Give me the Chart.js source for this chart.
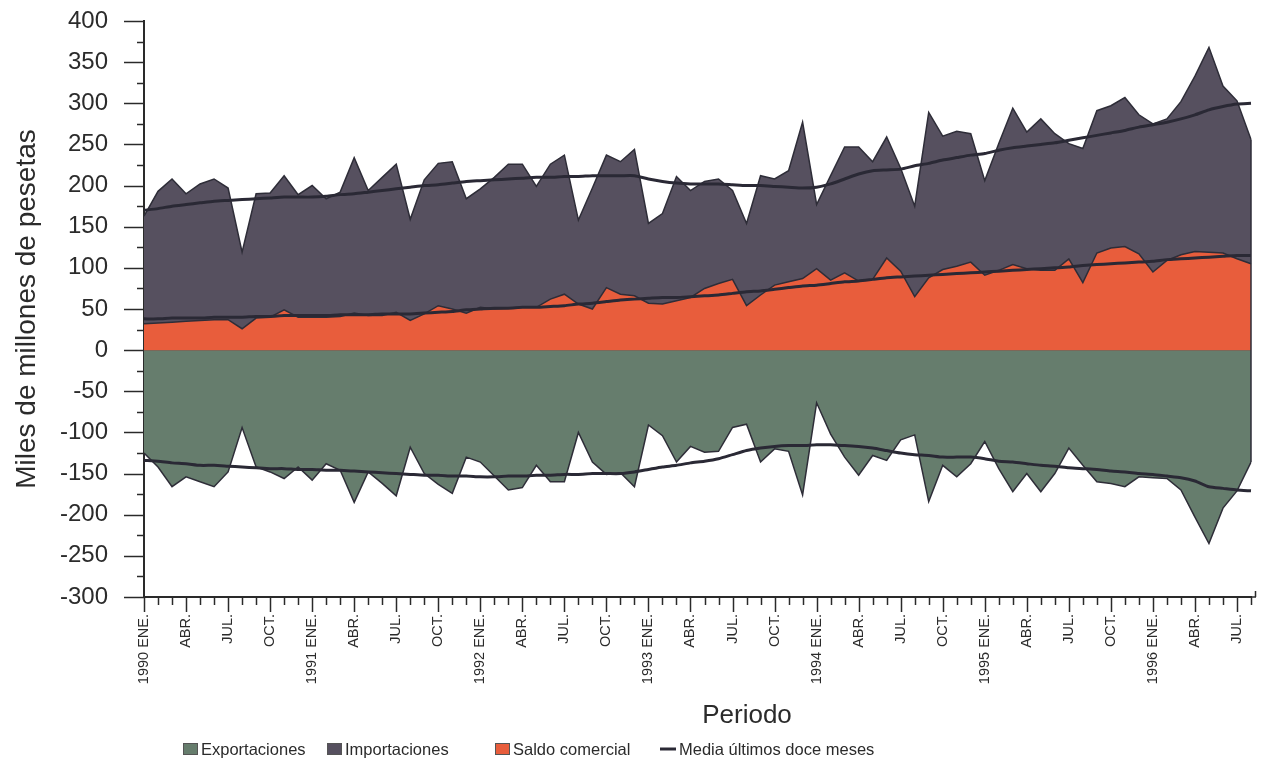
<!DOCTYPE html>
<html>
<head>
<meta charset="utf-8">
<script src="https://cdn.jsdelivr.net/npm/chart.js@4.4.1/dist/chart.umd.min.js"></script>
<style>
  html, body { margin: 0; padding: 0; background: #ffffff; }
  #wrap { position: relative; width: 1271px; height: 764px; }
  canvas { display: block; }
</style>
</head>
<body>
<div id="wrap"><canvas id="c" width="1271" height="764"></canvas></div>
<script>
// ---- Data (miles de millones de pesetas), enero 1990 - agosto 1996 ----
const monthNames = ['ENE.', 'FEB.', 'MAR.', 'ABR.', 'MAY.', 'JUN.', 'JUL.', 'AGO.', 'SEP.', 'OCT.', 'NOV.', 'DIC.'];
const years = [1990, 1991, 1992, 1993, 1994, 1995, 1996];
const monthCount = 80;

const importaciones = [
  163, 193, 208, 190, 202, 208, 197, 119, 190, 191,
  212, 189, 200, 184, 192, 234, 194, 210, 226, 159,
  207, 227, 229, 184, 196, 210, 226, 226, 199, 226,
  237, 158, 197, 237, 229, 244, 154, 166, 211, 194,
  205, 208, 194, 154, 212, 208, 218, 277, 177, 212,
  247, 247, 229, 259, 221, 175, 289, 260, 266, 263,
  206, 251, 294, 265, 281, 263, 251, 245, 291, 297,
  307, 286, 275, 281, 302, 333, 368, 321, 303, 256
];
const saldoComercial = [
  32, 33, 34, 35, 36, 37, 37, 26, 39, 40,
  49, 40, 40, 40, 41, 45, 42, 42, 46, 36,
  44, 54, 50, 45, 52, 50, 51, 52, 52, 62,
  68, 56, 50, 76, 68, 66, 57, 56, 60, 64,
  75, 81, 86, 54, 67, 79, 83, 87, 99, 85,
  94, 84, 86, 112, 96, 65, 88, 98, 102, 107,
  91, 97, 104, 99, 97, 97, 111, 82, 118, 124,
  126, 117, 95, 109, 116, 120, 119, 118, 111, 105
];
const exportaciones = [
  -125, -142, -166, -154, -160, -166, -148, -94, -142, -148,
  -156, -142, -158, -138, -146, -185, -148, -162, -177, -118,
  -150, -163, -174, -130, -136, -153, -170, -167, -140, -160,
  -160, -100, -136, -151, -149, -166, -91, -104, -136, -117,
  -124, -123, -94, -90, -136, -120, -123, -176, -64, -102,
  -130, -152, -128, -134, -109, -103, -184, -140, -154, -138,
  -111, -144, -172, -150, -172, -150, -119, -140, -160, -162,
  -166, -154, -155, -156, -170, -203, -235, -192, -171, -136
];
// Media últimos doce meses
const mediaImportaciones = [
  170, 172, 175, 177, 179, 181, 182, 183, 184, 185,
  186, 186, 186, 187, 189, 190, 192, 194, 196, 198,
  200, 201, 203, 205, 206, 207, 208, 209, 210, 210,
  211, 211, 212, 212, 212, 212, 208, 205, 203, 202,
  202, 202, 201, 200, 200, 199, 198, 197, 198, 202,
  208, 214, 218, 219, 220, 224, 227, 231, 234, 237,
  239, 243, 246, 248, 250, 252, 255, 258, 261, 264,
  267, 271, 274, 277, 281, 286, 292, 296, 299, 300
];
const mediaSaldo = [
  38, 38, 39, 39, 39, 40, 40, 40, 41, 41,
  42, 42, 42, 42, 43, 43, 43, 44, 44, 44,
  45, 46, 47, 49, 50, 51, 51, 52, 52, 53,
  54, 56, 57, 59, 61, 62, 63, 64, 64, 65,
  66, 67, 69, 71, 72, 74, 76, 78, 79, 81,
  83, 84, 86, 88, 89, 90, 91, 92, 93, 94,
  95, 96, 97, 98, 99, 100, 101, 103, 104, 105,
  106, 107, 108, 110, 111, 112, 113, 114, 115, 115
];
const mediaExportaciones = [
  -134, -135, -137, -138, -140, -140, -141, -142, -143, -144,
  -144, -145, -145, -146, -146, -147, -148, -149, -150, -151,
  -152, -152, -153, -153, -154, -154, -153, -153, -152, -152,
  -151, -151, -150, -150, -150, -148, -145, -142, -140, -137,
  -135, -132, -127, -122, -119, -117, -116, -116, -115, -115,
  -116, -117, -119, -122, -125, -127, -128, -130, -130, -130,
  -132, -135, -136, -138, -140, -141, -143, -144, -145, -147,
  -148, -150, -151, -153, -155, -159, -166, -168, -170, -171
];
const yAxisRange = { min: -300, max: 400, step: 50, minorStep: 25 };
const labelEvery = 3;
const seriesNames = ['Exportaciones', 'Importaciones', 'Saldo comercial', 'Media últimos doce meses'];
const xTitle = 'Periodo';
const yTitle = 'Miles de millones de pesetas';

// categories built from the month / year lists
const categories = [];
for (let k = 0; k < monthCount; k++) {
  const m = k % 12;
  const yr = years[Math.floor(k / 12)];
  categories.push(m === 0 ? yr + ' ' + monthNames[m] : monthNames[m]);
}

const COL = {
  exp: '#667d6d',
  imp: '#56505f',
  sal: '#e85d3c',
  edge: '#2e2d38',
  ma: '#2a2935',
  axis: '#2a2a2a',
  text: '#2b2b2b'
};
const FONT = "'Liberation Sans', Arial, Helvetica, sans-serif";

const decorPlugin = {
  id: 'decor',
  afterDraw(chart) {
    const ctx = chart.ctx;
    const xs = chart.scales.x, ys = chart.scales.y;
    const area = chart.chartArea;
    ctx.save();
    // right edge outline of the areas
    const last = monthCount - 1;
    const xr = xs.getPixelForValue(last);
    ctx.strokeStyle = COL.edge;
    ctx.lineWidth = 1.5;
    ctx.beginPath();
    ctx.moveTo(xr, ys.getPixelForValue(importaciones[last]));
    ctx.lineTo(xr, ys.getPixelForValue(exportaciones[last]));
    ctx.stroke();

    // y tick marks (major every 50, minor every 25)
    ctx.strokeStyle = COL.axis;
    ctx.lineWidth = 1.5;
    for (let v = yAxisRange.min; v <= yAxisRange.max; v += yAxisRange.minorStep) {
      const py = Math.round(ys.getPixelForValue(v)) + 0.5;
      const len = (v % yAxisRange.step === 0) ? 20 : 7;
      ctx.beginPath();
      ctx.moveTo(area.left - len, py);
      ctx.lineTo(area.left, py);
      ctx.stroke();
    }
    // x tick marks (major every 3 months)
    for (let i = 0; i < monthCount; i++) {
      const px = Math.round(xs.getPixelForTick(i)) + 0.5;
      const len = (i % labelEvery === 0) ? 15 : 8;
      ctx.beginPath();
      ctx.moveTo(px, area.bottom);
      ctx.lineTo(px, area.bottom + len);
      ctx.stroke();
    }
    // small end tick at right of the x axis
    ctx.beginPath();
    ctx.moveTo(area.right + 4.5, area.bottom);
    ctx.lineTo(area.right + 4.5, area.bottom - 6);
    ctx.moveTo(area.right, area.bottom);
    ctx.lineTo(area.right + 5, area.bottom);
    ctx.stroke();

    // axis titles
    ctx.fillStyle = COL.text;
    ctx.font = '26px ' + FONT;
    ctx.textAlign = 'center';
    ctx.textBaseline = 'middle';
    ctx.fillText(xTitle, 747, 716);
    ctx.save();
    ctx.translate(27, 309);
    ctx.rotate(-Math.PI / 2);
    ctx.font = '28px ' + FONT;
    ctx.fillText(yTitle, 0, 0);
    ctx.restore();

    // legend
    const ly = 749;
    const starts = [183, 327, 495, 660];
    const fills = [COL.exp, COL.imp, COL.sal, null];
    ctx.font = '16.5px ' + FONT;
    ctx.textAlign = 'left';
    ctx.textBaseline = 'middle';
    for (let i = 0; i < seriesNames.length; i++) {
      const x0 = starts[i];
      if (fills[i]) {
        ctx.fillStyle = fills[i];
        ctx.fillRect(x0, ly - 6, 15, 12);
        ctx.strokeStyle = '#555';
        ctx.lineWidth = 1;
        ctx.strokeRect(x0 + 0.5, ly - 5.5, 14, 11);
        ctx.fillStyle = COL.text;
        ctx.fillText(seriesNames[i], x0 + 18, ly + 1);
      } else {
        ctx.strokeStyle = COL.ma;
        ctx.lineWidth = 3;
        ctx.beginPath();
        ctx.moveTo(x0, ly);
        ctx.lineTo(x0 + 16, ly);
        ctx.stroke();
        ctx.fillStyle = COL.text;
        ctx.fillText(seriesNames[i], x0 + 19, ly + 1);
      }
    }
    ctx.restore();
  }
};

const areaBase = { pointRadius: 0, pointHoverRadius: 0, tension: 0, borderWidth: 1.5, borderColor: COL.edge, fill: 'origin' };
const lineBase = { pointRadius: 0, pointHoverRadius: 0, tension: 0.2, borderWidth: 3, borderColor: COL.ma, fill: false, order: 1 };

new Chart(document.getElementById('c'), {
  type: 'line',
  data: {
    labels: categories,
    datasets: [
      Object.assign({}, areaBase, { label: seriesNames[1], data: importaciones, backgroundColor: COL.imp, order: 6 }),
      Object.assign({}, areaBase, { label: seriesNames[2], data: saldoComercial, backgroundColor: COL.sal, order: 5 }),
      Object.assign({}, areaBase, { label: seriesNames[0], data: exportaciones, backgroundColor: COL.exp, order: 5 }),
      Object.assign({}, lineBase, { label: seriesNames[3], data: mediaImportaciones }),
      Object.assign({}, lineBase, { label: seriesNames[3] + ' (saldo)', data: mediaSaldo }),
      Object.assign({}, lineBase, { label: seriesNames[3] + ' (export.)', data: mediaExportaciones })
    ]
  },
  options: {
    responsive: false,
    devicePixelRatio: 1,
    animation: false,
    layout: { padding: { top: 21, right: 20, bottom: 0, left: 0 } },
    plugins: {
      legend: { display: false },
      tooltip: { enabled: false },
      title: { display: false }
    },
    scales: {
      x: {
        type: 'category',
        offset: false,
        grid: { display: true, drawOnChartArea: false, drawTicks: true, tickLength: 17, tickColor: 'rgba(0,0,0,0)' },
        border: { display: true, color: COL.axis, width: 2 },
        ticks: {
          autoSkip: false,
          maxRotation: 90,
          minRotation: 90,
          padding: 0,
          color: COL.text,
          font: { family: FONT, size: 14.5 },
          callback: function (value, index) { return index % labelEvery === 0 ? categories[index] : ''; }
        },
        afterFit: function (s) { s.height = 167; }
      },
      y: {
        min: yAxisRange.min,
        max: yAxisRange.max,
        grid: {
          display: true,
          drawTicks: true,
          tickLength: 36,
          tickColor: 'rgba(0,0,0,0)',
          lineWidth: 2,
          color: function (c) { return (c.tick && c.tick.value === 0) ? COL.edge : 'rgba(0,0,0,0)'; }
        },
        border: { display: true, color: COL.axis, width: 2 },
        ticks: {
          stepSize: yAxisRange.step,
          padding: 0,
          color: COL.text,
          font: { family: FONT, size: 24 }
        },
        afterFit: function (s) { s.width = 144; }
      }
    }
  },
  plugins: [decorPlugin]
});
</script>
</body>
</html>
